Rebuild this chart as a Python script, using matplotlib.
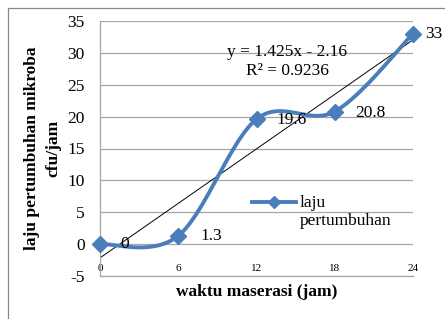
import numpy as np
import matplotlib
matplotlib.use("Agg")
import matplotlib.pyplot as plt
from matplotlib.legend_handler import HandlerLine2D
from matplotlib.patches import Rectangle

plt.rcParams['font.family'] = ['Liberation Serif', 'DejaVu Serif']

# data
waktu = [0, 6, 12, 18, 24]
laju = [0, 1.3, 19.6, 20.8, 33]
label_teks = ['0', '1.3', '19.6', '20.8', '33']
xticks = [0, 6, 12, 18, 24]
yticks = [-5, 0, 5, 10, 15, 20, 25, 30, 35]

biru = '#4A7EBB'
abu = '#A6A6A6'
fs = 12.5


def smooth_excel(x, y, n=40):
    # bezier ala excel (catmull-rom, faktor 1/6)
    p = np.column_stack([x, y]).astype(float)
    pts = []
    for i in range(len(p) - 1):
        p0 = p[i - 1] if i > 0 else p[i]
        p1, p2 = p[i], p[i + 1]
        p3 = p[i + 2] if i + 2 < len(p) else p[i + 1]
        c1 = p1 + (p2 - p0) / 6
        c2 = p2 - (p3 - p1) / 6
        t = np.linspace(0, 1, n)[:, None]
        seg = (1 - t) ** 3 * p1 + 3 * (1 - t) ** 2 * t * c1 + 3 * (1 - t) * t ** 2 * c2 + t ** 3 * p2
        pts.append(seg if i == 0 else seg[1:])
    pts = np.vstack(pts)
    return pts[:, 0], pts[:, 1]


class HandlerAtas(HandlerLine2D):
    # garis legenda sejajar baris pertama teks
    def create_artists(self, legend, orig_handle, xdescent, ydescent, width, height, fontsize, trans):
        arts = super().create_artists(legend, orig_handle, xdescent, ydescent, width, height, fontsize, trans)
        for a in arts:
            a.set_ydata(np.asarray(a.get_ydata()) + 0.58 * fontsize)
        return arts


fig = plt.figure(figsize=(4.45, 3.19), dpi=100)
fig.patches.append(Rectangle((8 / 445, -0.1), 1.2, 1.1 - 8 / 319, transform=fig.transFigure,
                             fill=False, edgecolor='#888888', linewidth=0.9))
ax = fig.add_axes([100 / 445, 43 / 319, 313 / 445, 255 / 319])

xs, ys = smooth_excel(waktu, laju)
ax.plot(xs, ys, color=biru, lw=2.8, zorder=3, clip_on=False)
ax.plot(waktu, laju, linestyle='none', marker='D', ms=8.5, color=biru, zorder=4, clip_on=False)
proxy, = ax.plot([], [], color=biru, lw=2.8, marker='D', ms=6.5)

# trendline linier
m, c = np.polyfit(waktu, laju, 1)
tx = np.array([waktu[0], waktu[-1]])
ax.plot(tx, m * tx + c, color='black', lw=0.7, zorder=2)
ax.text(0.598, 0.878, 'y = 1.425x - 2.16', transform=ax.transAxes, ha='center', va='center', fontsize=fs)
ax.text(0.600, 0.805, 'R² = 0.9236', transform=ax.transAxes, ha='center', va='center', fontsize=fs)

offset = [(20, 0), (22, 0), (20, -1), (20, -1), (12, 0)]
for xv, yv, t, off in zip(waktu, laju, label_teks, offset):
    ax.annotate(t, (xv, yv), xytext=off, textcoords='offset pixels', ha='left', va='center',
                fontsize=fs, zorder=5)

ax.set_xlim(0, 24)
ax.set_ylim(-5, 35)
ax.set_xticks(xticks)
ax.set_yticks(yticks)
ax.set_xticklabels([str(v) for v in xticks], fontsize=8)
ax.set_yticklabels([str(v) for v in yticks], fontsize=fs)
ax.tick_params(axis='x', length=0, pad=-8.5)
ax.tick_params(axis='y', length=0, pad=11)
ax.grid(axis='y', color=abu, lw=0.9)
ax.set_axisbelow(True)
for s in ['top', 'right']:
    ax.spines[s].set_visible(False)
for s in ['left', 'bottom']:
    ax.spines[s].set_color(abu)
    ax.spines[s].set_linewidth(0.9)

ax.set_xlabel('waktu maserasi (jam)', fontsize=fs, fontweight='bold', labelpad=6)
ax.set_ylabel('laju pertumbuhan mikroba\ncfu/jam', fontsize=fs, fontweight='bold', labelpad=4,
              linespacing=1.45)

ax.legend([proxy], ['laju\npertumbuhan'], handler_map={proxy: HandlerAtas(numpoints=1)},
          loc='upper left', bbox_to_anchor=(252 / 445, 1 - 195 / 319), bbox_transform=fig.transFigure,
          frameon=False, borderpad=0, borderaxespad=0, handlelength=2.55, handletextpad=0.2,
          fontsize=fs, labelspacing=0)

fig.savefig('out.png', dpi=100)
